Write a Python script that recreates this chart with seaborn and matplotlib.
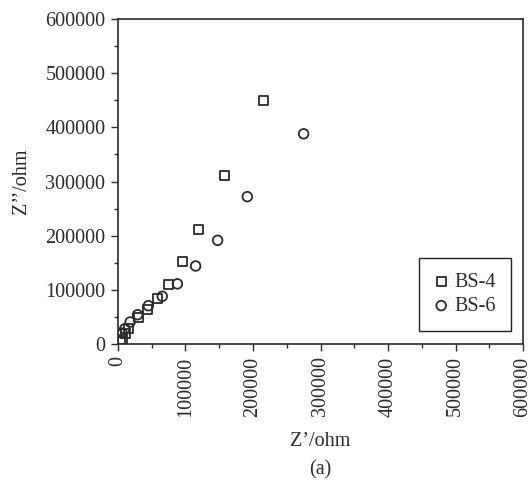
import matplotlib
matplotlib.use("Agg")
import matplotlib.pyplot as plt
import seaborn as sns
import pandas as pd
from matplotlib.ticker import MultipleLocator

bs4_x = [4000, 7000, 11000, 15000, 30000, 44000, 58000, 75000, 95000, 120000, 158000, 215000]
bs4_y = [4000, 9000, 18500, 28000, 48500, 64000, 84000, 110000, 153000, 212000, 311000, 450000]
bs6_x = [6000, 10000, 18000, 29000, 45000, 65600, 88000, 115000, 147600, 191600, 275000]
bs6_y = [20000, 28000, 40600, 54000, 70700, 88000, 111000, 144000, 191400, 272000, 388000]
series_names = ["BS-4", "BS-6"]
ticks = [0, 100000, 200000, 300000, 400000, 500000, 600000]

sns.set_style("ticks")
plt.rcParams['font.family'] = ['Liberation Serif', 'DejaVu Serif']
plt.rcParams['font.size'] = 14

fig = plt.figure(figsize=(5.31, 4.84), dpi=100)
ax = fig.add_axes([0.2222, 0.2893, 0.7628, 0.6714])

df4 = pd.DataFrame({"x": bs4_x, "y": bs4_y})
df6 = pd.DataFrame({"x": bs6_x, "y": bs6_y})
ec = "#2a2a2a"
sns.scatterplot(data=df4, x="x", y="y", marker="s", s=42, facecolor="none",
                edgecolor=ec, linewidth=1.3, ax=ax, label=series_names[0], zorder=3)
sns.scatterplot(data=df6, x="x", y="y", marker="o", s=48, facecolor="none",
                edgecolor=ec, linewidth=1.3, ax=ax, label=series_names[1], zorder=3)

ax.set_xlim(0, 600000)
ax.set_ylim(0, 600000)
ax.set_xticks(ticks)
ax.set_yticks(ticks)
ax.set_xticklabels([str(t) for t in ticks], rotation=90)
ax.set_yticklabels([str(t) for t in ticks])
ax.xaxis.set_minor_locator(MultipleLocator(50000))
ax.yaxis.set_minor_locator(MultipleLocator(50000))
tc = "#2b2b2b"
ax.tick_params(which="major", direction="out", length=5, width=1, color=tc,
               labelcolor=tc, labelsize=14.5, pad=4)
ax.tick_params(which="minor", direction="out", length=3, width=1, color=tc)
for sp in ax.spines.values():
    sp.set_visible(True)
    sp.set_color(tc)
    sp.set_linewidth(1.2)

ax.set_xlabel("")
ax.set_ylabel("Z\u2019\u2019/ohm", fontsize=14.5, color=tc, labelpad=10)
fig.text((118 + 523) / 2 / 531, 1 - 442 / 484, "Z\u2019/ohm", ha="center", va="center",
         fontsize=14.5, color=tc)
fig.text((118 + 523) / 2 / 531, 1 - 470 / 484, "(a)", ha="center", va="center",
         fontsize=14.5, color=tc)

leg = ax.legend(loc="lower right", bbox_to_anchor=(0.970, 0.04), borderaxespad=0,
                frameon=True, fancybox=False, edgecolor="#222222", framealpha=1,
                fontsize=14.5, handletextpad=0.3, borderpad=0.75, labelspacing=0.25,
                handlelength=0.7)
leg.get_frame().set_linewidth(1.0)
for t in leg.get_texts():
    t.set_color(tc)

fig.savefig("out.png", dpi=100)
